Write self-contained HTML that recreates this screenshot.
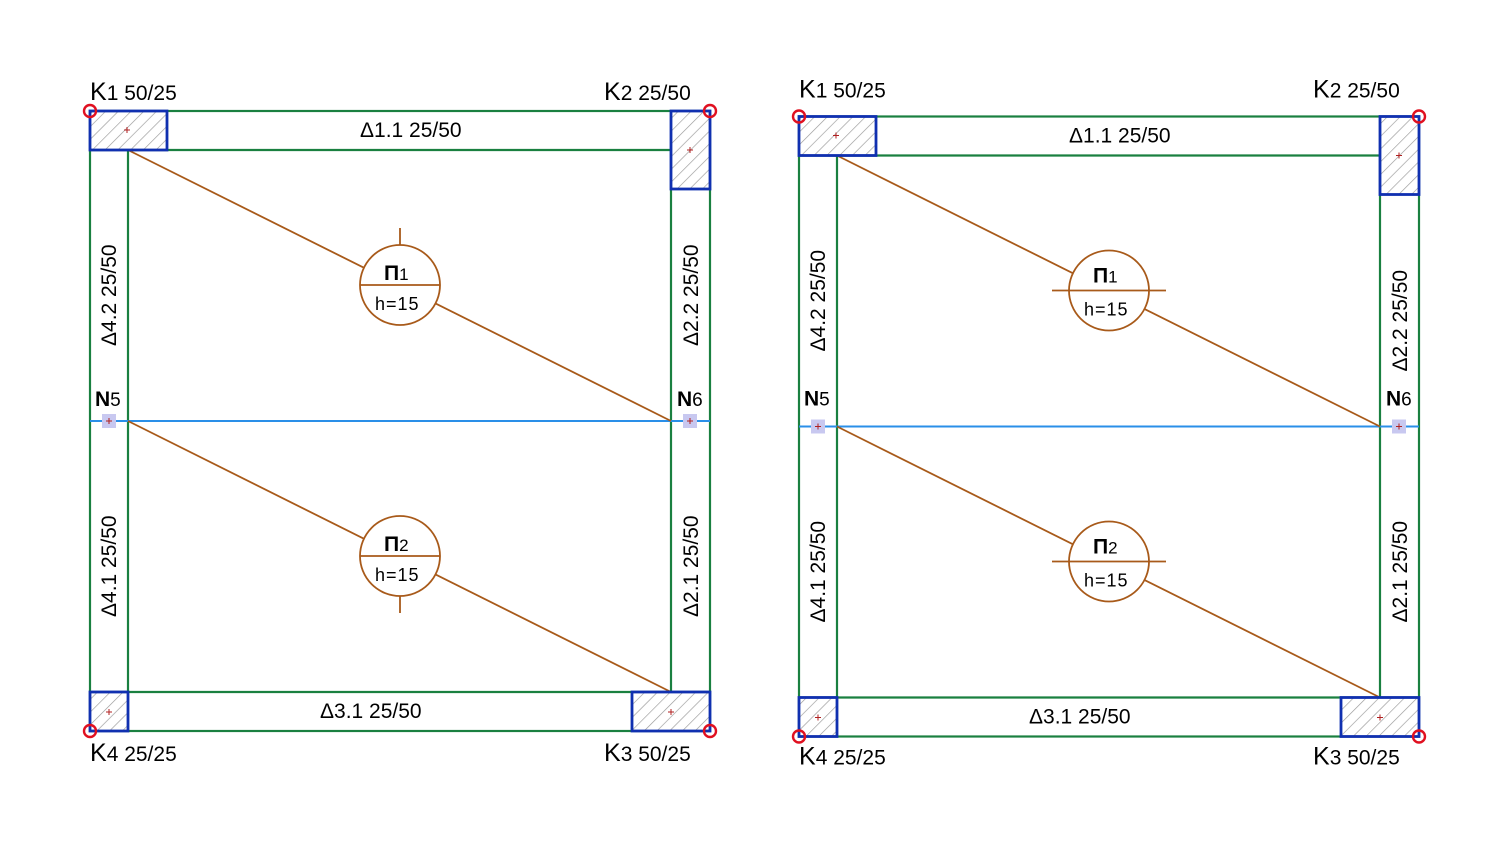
<!DOCTYPE html>
<html><head><meta charset="utf-8"><style>
html,body{margin:0;padding:0;background:#fff;width:1500px;height:843px;overflow:hidden}
text{font-family:"Liberation Sans",sans-serif;fill:#000}
</style></head><body>
<svg width="1500" height="843" viewBox="0 0 1500 843" xmlns="http://www.w3.org/2000/svg">
<defs>
<pattern id="h" width="9" height="9" patternUnits="userSpaceOnUse" patternTransform="rotate(45)">
<rect width="9" height="9" fill="#fff"/><line x1="0" y1="0" x2="0" y2="9" stroke="#999" stroke-width="1.3"/></pattern>
</defs>

<!-- LEFT PANEL -->
<g>
<g fill="none" stroke="#1a8040" stroke-width="2.2">
<rect x="90" y="111" width="620" height="620"/>
<line x1="90" y1="150" x2="710" y2="150"/>
<line x1="90" y1="692" x2="710" y2="692"/>
<line x1="128" y1="150" x2="128" y2="692"/>
<line x1="671" y1="150" x2="671" y2="692"/>
</g>
<line x1="90" y1="421" x2="710" y2="421" stroke="#2a8fe8" stroke-width="2"/>
<g stroke="#a85a1a" stroke-width="1.8" fill="none">
<line x1="128" y1="150" x2="671" y2="421"/>
<line x1="128" y1="421" x2="671" y2="692"/>
<circle cx="400" cy="285" r="40" fill="#fff"/>
<line x1="360" y1="285" x2="440" y2="285"/>
<line x1="400" y1="228" x2="400" y2="245"/>
<circle cx="400" cy="556" r="40" fill="#fff"/>
<line x1="360" y1="556" x2="440" y2="556"/>
<line x1="400" y1="596" x2="400" y2="613"/>
</g>
<g stroke="#1030b0" stroke-width="2.8" fill="url(#h)">
<rect x="90" y="111" width="77" height="39"/>
<rect x="671" y="111" width="39" height="78"/>
<rect x="632" y="692" width="78" height="39"/>
<rect x="90" y="692" width="38" height="39"/>
</g>
<g fill="none" stroke="#e01020" stroke-width="2.4">
<circle cx="90" cy="111" r="6"/><circle cx="710" cy="111" r="6"/>
<circle cx="710" cy="731" r="6"/><circle cx="90" cy="731" r="6"/>
</g>
<rect x="102" y="414" width="14" height="14" fill="#c8c8f0"/>
<rect x="683" y="414" width="14" height="14" fill="#c8c8f0"/>
<g stroke="#b02020" stroke-width="1">
<path d="M106 421h6M109 418v6M687 421h6M690 418v6M124 130h6M127 127v6M687 150h6M690 147v6M668 712h6M671 709v6M106 712h6M109 709v6"/>
</g>
<g font-size="21">
<text x="90" y="100"><tspan font-size="25">K</tspan>1 50/25</text>
<text x="604" y="100"><tspan font-size="25">K</tspan>2 25/50</text>
<text x="604" y="761"><tspan font-size="25">K</tspan>3 50/25</text>
<text x="90" y="761"><tspan font-size="25">K</tspan>4 25/25</text>
<text x="360" y="137">Δ1.1 25/50</text>
<text x="320" y="718">Δ3.1 25/50</text>
<text transform="translate(116,346) rotate(-90)">Δ4.2 25/50</text>
<text transform="translate(116,617) rotate(-90)">Δ4.1 25/50</text>
<text transform="translate(698,346) rotate(-90)">Δ2.2 25/50</text>
<text transform="translate(698,617) rotate(-90)">Δ2.1 25/50</text>
<text x="95" y="406" font-weight="bold">N<tspan font-weight="normal" font-size="19">5</tspan></text>
<text x="677" y="406" font-weight="bold">N<tspan font-weight="normal" font-size="19">6</tspan></text>
<text x="384" y="280" font-weight="bold">Π<tspan font-weight="normal" font-size="17">1</tspan></text>
<text x="375" y="310" font-size="18" letter-spacing="1">h=15</text>
<text x="384" y="551" font-weight="bold">Π<tspan font-weight="normal" font-size="17">2</tspan></text>
<text x="375" y="581" font-size="18" letter-spacing="1">h=15</text>
</g>
</g>

<!-- RIGHT PANEL -->
<g transform="translate(709,5.5)">
<g fill="none" stroke="#1a8040" stroke-width="2.2">
<rect x="90" y="111" width="620" height="620"/>
<line x1="90" y1="150" x2="710" y2="150"/>
<line x1="90" y1="692" x2="710" y2="692"/>
<line x1="128" y1="150" x2="128" y2="692"/>
<line x1="671" y1="150" x2="671" y2="692"/>
</g>
<line x1="90" y1="421" x2="710" y2="421" stroke="#2a8fe8" stroke-width="2"/>
<g stroke="#a85a1a" stroke-width="1.8" fill="none">
<line x1="128" y1="150" x2="671" y2="421"/>
<line x1="128" y1="421" x2="671" y2="692"/>
<circle cx="400" cy="285" r="40" fill="#fff"/>
<line x1="343" y1="285" x2="457" y2="285"/>
<circle cx="400" cy="556" r="40" fill="#fff"/>
<line x1="343" y1="556" x2="457" y2="556"/>
</g>
<g stroke="#1030b0" stroke-width="2.8" fill="url(#h)">
<rect x="90" y="111" width="77" height="39"/>
<rect x="671" y="111" width="39" height="78"/>
<rect x="632" y="692" width="78" height="39"/>
<rect x="90" y="692" width="38" height="39"/>
</g>
<g fill="none" stroke="#e01020" stroke-width="2.4">
<circle cx="90" cy="111" r="6"/><circle cx="710" cy="111" r="6"/>
<circle cx="710" cy="731" r="6"/><circle cx="90" cy="731" r="6"/>
</g>
<rect x="102" y="414" width="14" height="14" fill="#c8c8f0"/>
<rect x="683" y="414" width="14" height="14" fill="#c8c8f0"/>
<g stroke="#b02020" stroke-width="1">
<path d="M106 421h6M109 418v6M687 421h6M690 418v6M124 130h6M127 127v6M687 150h6M690 147v6M668 712h6M671 709v6M106 712h6M109 709v6"/>
</g>
<g font-size="21">
<text x="90" y="92"><tspan font-size="25">K</tspan>1 50/25</text>
<text x="604" y="92"><tspan font-size="25">K</tspan>2 25/50</text>
<text x="604" y="759"><tspan font-size="25">K</tspan>3 50/25</text>
<text x="90" y="759"><tspan font-size="25">K</tspan>4 25/25</text>
<text x="360" y="137">Δ1.1 25/50</text>
<text x="320" y="718">Δ3.1 25/50</text>
<text transform="translate(116,346) rotate(-90)">Δ4.2 25/50</text>
<text transform="translate(116,617) rotate(-90)">Δ4.1 25/50</text>
<text transform="translate(698,366) rotate(-90)">Δ2.2 25/50</text>
<text transform="translate(698,617) rotate(-90)">Δ2.1 25/50</text>
<text x="95" y="400" font-weight="bold">N<tspan font-weight="normal" font-size="19">5</tspan></text>
<text x="677" y="400" font-weight="bold">N<tspan font-weight="normal" font-size="19">6</tspan></text>
<text x="384" y="277" font-weight="bold">Π<tspan font-weight="normal" font-size="17">1</tspan></text>
<text x="375" y="310" font-size="18" letter-spacing="1">h=15</text>
<text x="384" y="548" font-weight="bold">Π<tspan font-weight="normal" font-size="17">2</tspan></text>
<text x="375" y="581" font-size="18" letter-spacing="1">h=15</text>
</g>
</g>
</svg>
</body></html>
